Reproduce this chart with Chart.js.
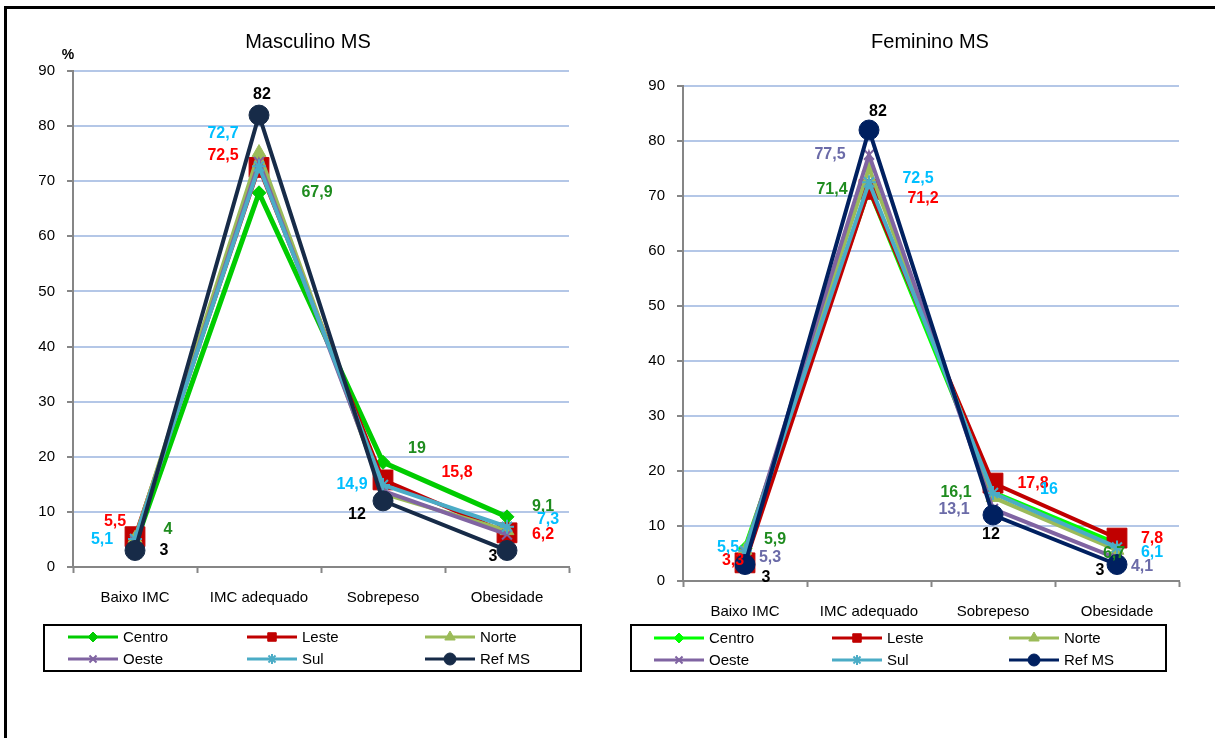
<!DOCTYPE html>
<html>
<head>
<meta charset="utf-8">
<script src="https://cdn.jsdelivr.net/npm/chart.js@4.4.1/dist/chart.umd.min.js"></script>
<style>
html, body { margin: 0; padding: 0; background: #fff; }
body { width: 1215px; height: 738px; position: relative; overflow: hidden; }
#frame { position: absolute; left: 4px; top: 6px; width: 1230px; height: 760px; border-left: 3px solid #000; border-top: 3px solid #000; }
canvas { position: absolute; top: 0; }
#masc { left: 0; }
#fem { left: 610px; }
</style>
</head>
<body>
<div id="frame"></div>
<canvas id="masc" width="600" height="700"></canvas>
<canvas id="fem" width="600" height="700"></canvas>
<script>
// categories and tick labels
const categories = ['Baixo IMC', 'IMC adequado', 'Sobrepeso', 'Obesidade'];
const seriesNames = ['Centro', 'Leste', 'Norte', 'Oeste', 'Sul', 'Ref MS'];
const yTicks = [0, 10, 20, 30, 40, 50, 60, 70, 80, 90];

// Masculino MS (%)
const mascCentro = [4, 67.9, 19, 9.1];
const mascLeste = [5.5, 72.5, 15.8, 6.2];
const mascNorte = [5.2, 75.2, 13.3, 6.6];
const mascOeste = [4.8, 73.5, 13.8, 5.9];
const mascSul = [5.1, 72.7, 14.9, 7.3];
const mascRef = [3, 82, 12, 3];

// Feminino MS (%)
const femCentro = [5.9, 71.4, 16.1, 6.7];
const femLeste = [3.3, 71.2, 17.8, 7.8];
const femNorte = [5.6, 75.1, 15.2, 5.6];
const femOeste = [5.3, 77.5, 13.1, 4.1];
const femSul = [5.5, 72.5, 16, 6.1];
const femRef = [3, 82, 12, 3];

const FONT = '"Liberation Sans", Arial, sans-serif';

// styles
const mascColors = ['#00cc00', '#c00000', '#9bbb59', '#8064a2', '#4bacc6', '#172b48'];
const femColors = ['#00ff00', '#c00000', '#9bbb59', '#8064a2', '#4bacc6', '#002060'];
const labelColors = ['#1f8c1f', '#ff0000', '#9bbb59', '#6b6ba8', '#00bfff', '#000000'];
const markers = [
    { style: 'rectRot', r: 7, bw: 1, lw: 5 },
    { style: 'rect', r: 14, bw: 1, lw: 4 },
    { style: 'triangle', r: 8, bw: 1, lw: 4 },
    { style: 'crossRot', r: 7, bw: 2, lw: 4 },
    { style: 'star', r: 7, bw: 2, lw: 4 },
    { style: 'circle', r: 10, bw: 1, lw: 4 }
];
const legendMarkers = [5, 6, 6, 5, 5, 6];
// draw order: Ref MS on top, Centro at bottom
const drawOrder = [5, 4, 3, 2, 1, 0];

// label placement: [series, point, dx, dy]
const mascSpots = [
    [0, 0, 33, -15], [0, 1, 58, 0], [0, 2, 34, -14], [0, 3, 36, -10],
    [1, 0, -20, -15], [1, 1, -36, -12], [1, 2, 74, -7], [1, 3, 36, 2],
    [4, 0, -33, 1], [4, 1, -36, -33], [4, 2, -31, 0], [4, 3, 41, -7],
    [5, 0, 29, 0], [5, 1, 3, -20], [5, 2, -26, 14], [5, 3, -14, 6]
];
const femSpots = [
    [0, 0, 30, -9], [0, 1, -37, 1], [0, 2, -37, 0], [0, 3, -3, 9],
    [1, 0, -12, -2], [1, 1, 54, 9], [1, 2, 40, 0], [1, 3, 35, 0],
    [4, 0, -17, -3], [4, 1, 49, -4], [4, 2, 56, -3], [4, 3, 35, 5],
    [3, 0, 25, 6], [3, 1, -39, 0], [3, 2, -39, 1], [3, 3, 25, 8],
    [5, 0, 21, 13], [5, 1, 9, -18], [5, 2, -2, 20], [5, 3, -17, 6]
];

const valueLabels = {
    id: 'valueLabels',
    afterDatasetsDraw(chart, args, opts) {
        const ctx = chart.ctx;
        ctx.save();
        ctx.font = 'bold 16px ' + FONT;
        ctx.textAlign = 'center';
        ctx.textBaseline = 'middle';
        opts.spots.forEach(([ds, i, dx, dy]) => {
            const pt = chart.getDatasetMeta(ds).data[i];
            const v = chart.data.datasets[ds].data[i];
            ctx.fillStyle = labelColors[ds];
            ctx.fillText(String(v).replace('.', ','), pt.x + dx, pt.y + dy);
        });
        ctx.restore();
    }
};

const titleAndLegend = {
    id: 'titleAndLegend',
    afterDraw(chart, args, opts) {
        const ctx = chart.ctx;
        ctx.save();
        // title
        ctx.fillStyle = '#000';
        ctx.font = '20px ' + FONT;
        ctx.textAlign = 'center';
        ctx.textBaseline = 'middle';
        ctx.fillText(opts.title, opts.titleX, 42);
        if (opts.unit) {
            ctx.font = 'bold 14px ' + FONT;
            ctx.fillText('%', 68, 55);
        }
        // legend box
        const [bx, by, bw, bh] = opts.box;
        ctx.strokeStyle = '#000';
        ctx.lineWidth = 2;
        ctx.strokeRect(bx, by, bw, bh);
        ctx.font = '15px ' + FONT;
        ctx.textAlign = 'left';
        chart.data.datasets.forEach((ds, i) => {
            const x = opts.cols[i % 3];
            const y = opts.rows[Math.floor(i / 3)];
            ctx.strokeStyle = ds.borderColor;
            ctx.fillStyle = ds.borderColor;
            ctx.lineWidth = 3;
            ctx.beginPath();
            ctx.moveTo(x, y);
            ctx.lineTo(x + 50, y);
            ctx.stroke();
            ctx.lineWidth = markers[i].bw;
            Chart.helpers.drawPoint(ctx, {
                pointStyle: markers[i].style,
                radius: legendMarkers[i],
                borderWidth: markers[i].bw,
                rotation: 0
            }, x + 25, y);
            ctx.fillStyle = '#000';
            ctx.fillText(seriesNames[i], x + 55, y + 1);
        });
        ctx.restore();
    }
};

function makeChart(id, values, colors, spots, extra) {
    const datasets = values.map((data, i) => ({
        label: seriesNames[i],
        data: data,
        borderColor: colors[i],
        backgroundColor: colors[i],
        borderWidth: markers[i].lw,
        tension: 0,
        pointStyle: markers[i].style,
        pointRadius: markers[i].r,
        pointBorderWidth: markers[i].bw,
        pointBackgroundColor: colors[i],
        pointBorderColor: colors[i],
        order: drawOrder[i]
    }));

    return new Chart(document.getElementById(id), {
        type: 'line',
        data: { labels: categories, datasets: datasets },
        options: {
            responsive: false,
            animation: false,
            events: [],
            layout: { padding: { left: 20, right: 31, top: extra.top, bottom: 700 - extra.bottom - 40 } },
            plugins: {
                legend: { display: false },
                tooltip: { enabled: false },
                valueLabels: { spots: spots },
                titleAndLegend: extra.legend
            },
            scales: {
                x: {
                    offset: true,
                    grid: { offset: true, drawOnChartArea: false, drawTicks: true, tickLength: 6, tickColor: '#868686', tickWidth: 2 },
                    border: { color: '#868686', width: 2 },
                    ticks: { color: '#000', font: { size: 15, family: FONT }, padding: 16, maxRotation: 0, autoSkip: false },
                    afterFit: s => { s.height = 40; }
                },
                y: {
                    min: yTicks[0],
                    max: yTicks[yTicks.length - 1],
                    afterBuildTicks: s => { s.ticks = yTicks.map(v => ({ value: v })); },
                    ticks: { color: '#000', font: { size: 15, family: FONT }, padding: 12 },
                    grid: {
                        color: c => (c.tick && c.tick.value === 0 ? 'rgba(0,0,0,0)' : '#b4c7e7'),
                        lineWidth: 2, tickColor: '#868686', tickLength: 6, tickWidth: 2
                    },
                    border: { color: '#868686', width: 2 },
                    afterFit: s => { s.width = 53; }
                }
            }
        },
        plugins: [valueLabels, titleAndLegend]
    });
}

makeChart('masc',
    [mascCentro, mascLeste, mascNorte, mascOeste, mascSul, mascRef],
    mascColors, mascSpots,
    {
        top: 71, bottom: 567,
        legend: { title: 'Masculino MS', titleX: 308, unit: true,
            box: [44, 625, 537, 46], cols: [68, 247, 425], rows: [637, 659] }
    });

makeChart('fem',
    [femCentro, femLeste, femNorte, femOeste, femSul, femRef],
    femColors, femSpots,
    {
        top: 86, bottom: 581,
        legend: { title: 'Feminino MS', titleX: 320, unit: false,
            box: [21, 625, 535, 46], cols: [44, 222, 399], rows: [638, 660] }
    });
</script>
</body>
</html>
